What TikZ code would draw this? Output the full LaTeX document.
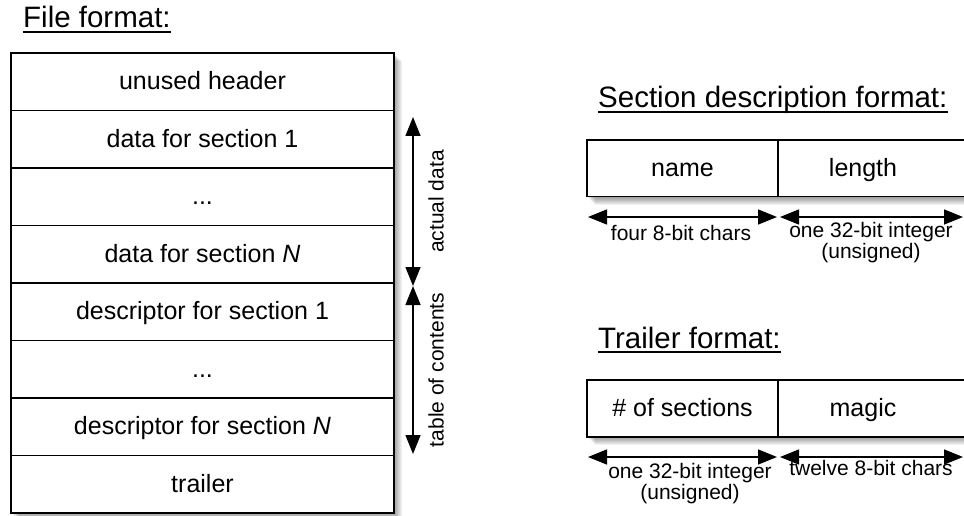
\documentclass[tikz,border=0pt]{standalone}
\usepackage{fontspec}
\setmainfont{Liberation Sans}
\usetikzlibrary{arrows.meta}
\begin{document}
\begin{tikzpicture}[x=1pt,y=-1pt,
  boxline/.style={draw=black, line width=1.8pt},
  txt/.style={inner sep=0pt, outer sep=0pt, text height=18pt, text depth=2pt, font=\fontsize{25}{30}\selectfont},
  cell/.style={txt, boxline, fill=white, minimum height=57.5pt, minimum width=383pt},
  rcell/.style={txt, boxline, fill=white, minimum height=56.5pt, minimum width=191pt},
  celltext/.style={txt},
  title/.style={inner sep=0pt, anchor=base west, font=\fontsize{29.5}{34}\selectfont},
  uline/.style={draw=black, line width=1.6pt},
  dim/.style={line width=1.5pt, {Triangle[width=15pt,length=19pt]}-{Triangle[width=15pt,length=19pt]}},
  lab/.style={inner sep=0pt, font=\fontsize{21}{20}\selectfont},
  shadowlayer/.style={fill=black, opacity=0.055, draw=none}
]
\path[use as bounding box] (0,0) rectangle (964,516);
\clip (0,0) rectangle (964,516);

% shadows
\foreach \d in {1,...,8} {
  \path[shadowlayer] (11+\d,53+\d) rectangle (394+\d,513+\d);
  \path[shadowlayer] (587+\d,140+\d) rectangle (990,196.5+\d);
  \path[shadowlayer] (587+\d,380+\d) rectangle (990,437+\d);
}

% titles
\node[title] (t1) at (23,28) {File format:};
\draw[uline] ([yshift=-4pt]t1.base west) -- ([yshift=-4pt]t1.base east);
\node[title] (t2) at (598,108) {Section description format:};
\draw[uline] ([yshift=-4pt]t2.base west) -- ([yshift=-4pt]t2.base east);
\node[title] (t3) at (598,348) {Trailer format:};
\draw[uline] ([yshift=-4pt]t3.base west) -- ([yshift=-4pt]t3.base east);

% file format column
\node[cell] (r1) at (202.5,81.75) {unused header};
\node[cell] (r2) at (202.5,139.25) {data for section 1};
\node[cell] (r3) at (202.5,196.75) {...};
\node[cell] (r4) at (202.5,254.25) {data for section \textit{N}};
\node[cell] (r5) at (202.5,311.75) {descriptor for section 1};
\node[cell] (r6) at (202.5,369.25) {...};
\node[cell] (r7) at (202.5,426.75) {descriptor for section \textit{N}};
\node[cell] (r8) at (202.5,484.25) {trailer};

% vertical dimension arrows
\coordinate (vA) at (413,117);
\coordinate (vB) at (413,286);
\coordinate (vC) at (413,454);
\draw[dim] (vA) -- (vB);
\draw[dim] (vB) -- (vC);
\node[lab, rotate=90] (ad) at (436,201.5) {actual data};
\node[lab, rotate=90] (toc) at (436,370) {table of contents};

% section description format
\coordinate (sR1) at (990,140);
\coordinate (sR2) at (990,196.5);
\fill[white] (778,140) rectangle (sR2);
\node[rcell] (name) at (682.5,168.25) {name};
\draw[boxline] (name.north east) -- (sR1);
\draw[boxline] (name.south east) -- (sR2);
\node[celltext] (len) at (863,168.25) {length};
\coordinate (sa1) at (588,217);
\coordinate (sa2) at (777,217);
\coordinate (sa3) at (780,217);
\coordinate (sa4) at (963,217);
\draw[dim] (sa1) -- (sa2);
\draw[dim] (sa3) -- (sa4);
\node[lab, anchor=base] (l1) at (681,240) {four 8-bit chars};
\node[lab, anchor=base] (l2) at (871,237) {\begin{tabular}[t]{@{}c@{}}one 32-bit integer\\(unsigned)\end{tabular}};

% trailer format
\coordinate (tR1) at (990,380);
\coordinate (tR2) at (990,437);
\fill[white] (778,380) rectangle (tR2);
\node[rcell, minimum height=57pt] (nsec) at (682.5,408.5) {\# of sections};
\draw[boxline] (nsec.north east) -- (tR1);
\draw[boxline] (nsec.south east) -- (tR2);
\node[celltext] (magic) at (863,408.5) {magic};
\coordinate (ta1) at (588,457);
\coordinate (ta2) at (777,457);
\coordinate (ta3) at (780,457);
\coordinate (ta4) at (963,457);
\draw[dim] (ta1) -- (ta2);
\draw[dim] (ta3) -- (ta4);
\node[lab, anchor=base] (l3) at (690,478) {\begin{tabular}[t]{@{}c@{}}one 32-bit integer\\(unsigned)\end{tabular}};
\node[lab, anchor=base] (l4) at (871,475) {twelve 8-bit chars};
\end{tikzpicture}
\end{document}
